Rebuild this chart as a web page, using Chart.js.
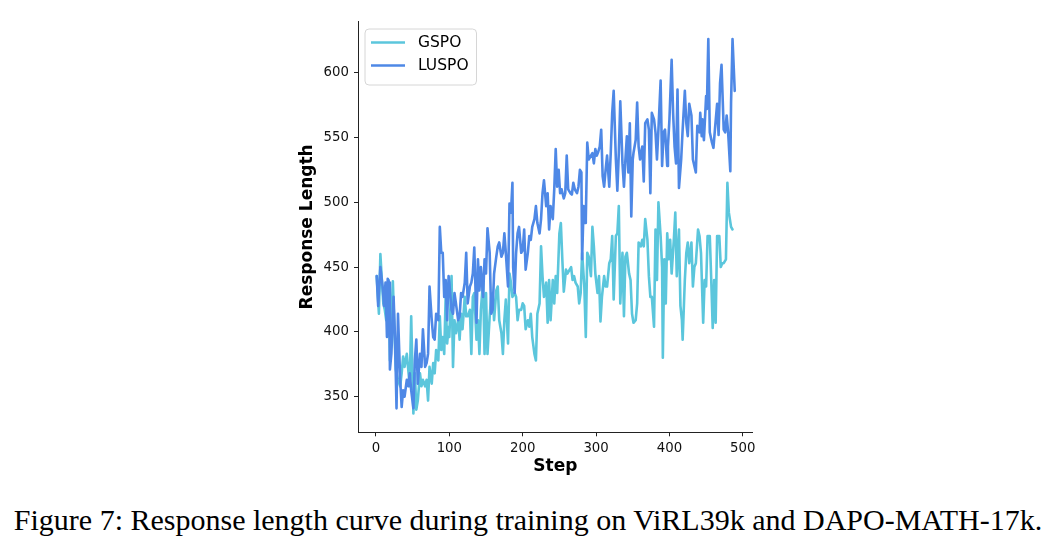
<!DOCTYPE html>
<html><head><meta charset="utf-8">
<script src="https://cdn.jsdelivr.net/npm/chart.js@4.4.1/dist/chart.umd.min.js"></script>
<style>
html,body{margin:0;padding:0;background:#fff;width:1056px;height:553px;overflow:hidden}
#chart{position:absolute;left:0;top:0}
#caption{position:absolute;left:0;top:503px;width:1056px;text-align:center;font-family:'Liberation Serif','Times New Roman',serif;font-size:30px;line-height:34px;color:#000;white-space:nowrap}
</style></head>
<body>
<canvas id="chart" width="1056" height="500"></canvas>
<div id="caption">Figure 7: Response length curve during training on ViRL39k and DAPO-MATH-17k.</div>
<script>
const seriesNames = ['GSPO', 'LUSPO'];
const xTicks = [0, 100, 200, 300, 400, 500];
const yTicks = [350, 400, 450, 500, 550, 600];

const gspoSteps = [1,4,6,8,10,12,14,17,19,23,25,27,30,33,35,37,39,42,44,46,48,51,53,55,57,60,62,64,67,69,71,73,76,78,80,82,85,87,89,91,93,95,97,99,100,103,105,107,109,112,114,116,118,121,123,125,128,130,132,134,137,139,141,143,146,148,150,152,155,157,159,161,164,166,168,171,173,175,177,180,182,184,186,189,191,193,195,198,200,202,204,207,209,211,213,216,218,220,223,225,227,229,232,234,236,238,241,243,245,247,250,252,254,256,259,261,263,266,268,270,272,275,277,279,281,284,286,288,290,293,295,297,299,302,304,306,308,311,313,315,318,320,322,324,327,329,331,333,336,338,340,342,345,347,349,351,354,356,358,361,363,365,367,370,372,374,376,379,381,383,385,388,390,391,393,395,397,399,401,403,406,408,410,413,415,417,418,421,423,425,427,430,432,434,436,439,441,443,446,448,450,452,455,457,459,461,463,465,468,470,472,474,477,479,481,484,486];
const gspoLen = [443,414,460,440,422,417,409,440,378,439,404,371,363,358,368,381,373,383,371,358,412,337,368,340,347,368,358,363,358,363,347,373,360,376,368,386,378,412,386,396,383,427,391,404,396,443,373,409,399,409,394,414,402,427,412,412,417,383,427,430,394,409,383,417,440,383,430,383,412,427,430,409,432,435,409,399,383,409,425,391,445,438,427,430,427,409,417,417,422,420,402,409,404,414,396,383,378,414,422,466,443,427,438,407,440,409,440,422,443,430,476,484,456,431,448,445,447,450,440,443,438,435,422,430,461,435,396,461,458,443,481,466,445,430,443,408,427,443,435,435,453,456,474,425,474,476,497,422,461,412,458,461,445,440,414,407,409,422,469,466,471,466,487,471,443,427,427,404,479,440,500,474,450,380,456,422,476,456,471,445,471,492,443,479,420,409,394,440,461,469,453,469,435,450,453,479,474,461,407,440,435,474,474,440,403,440,407,474,474,450,453,453,456,515,492,481,479];

const luspoSteps = [1,3,6,9,11,13,15,16,18,19,21,24,26,28,30,33,35,37,39,42,44,46,48,51,53,55,57,60,62,64,67,69,71,73,76,78,80,82,85,87,89,91,93,95,97,99,100,103,105,107,109,112,114,116,118,121,123,125,128,130,132,134,137,139,141,143,146,148,150,152,155,157,159,161,164,166,168,171,173,175,177,180,182,184,186,187,189,191,193,195,198,200,202,204,207,209,211,213,216,218,220,223,225,227,229,232,234,236,238,241,243,245,247,249,251,253,256,258,260,262,265,267,269,271,274,276,278,280,281,283,285,286,288,290,293,295,297,299,301,303,305,307,309,311,313,315,318,320,322,324,327,329,331,333,336,338,340,342,344,346,348,350,351,354,356,358,360,363,365,367,370,372,374,376,379,381,383,385,388,390,392,394,397,398,400,403,405,407,409,411,413,416,418,421,423,425,427,430,432,434,436,438,441,442,444,445,447,450,451,453,455,458,460,462,465,467,469,471,474,476,478,480,483,484,486,489];
const luspoLen = [443,420,450,435,420,438,396,441,438,371,383,427,394,341,414,363,342,355,350,363,358,368,355,341,378,394,360,383,373,402,373,376,383,435,409,396,394,414,409,481,461,461,427,440,409,443,438,417,414,430,422,409,412,430,427,438,461,422,435,438,445,465,407,456,432,450,427,456,445,480,461,414,417,445,458,466,469,458,461,476,461,435,499,492,515,450,430,461,476,481,461,463,479,448,461,474,471,481,487,497,484,476,487,507,517,497,507,479,497,487,510,541,512,525,507,510,503,507,536,510,507,506,515,510,507,512,525,523,456,497,484,487,546,533,536,538,530,541,536,539,543,556,520,512,525,536,512,538,569,586,533,509,538,578,530,512,533,551,523,561,489,533,538,548,577,543,533,543,516,561,564,556,507,569,564,554,533,556,594,528,554,556,528,543,564,610,569,543,530,587,511,533,556,586,561,551,576,567,533,528,523,559,554,569,551,564,548,582,572,626,554,546,542,556,576,552,592,606,556,554,567,554,524,577,626,586];

const colors = ['#5bc6dc', '#4e88e6'];

function toPoints(steps, vals) { return steps.map((s, i) => ({x: s, y: vals[i]})); }

const legendBox = {
  id: 'legendBox',
  afterDatasetsDraw(chart) {
    const ctx = chart.ctx, a = chart.chartArea;
    const x0 = a.left + 7, y0 = a.top + 7.5, w = 111.5, h = 56, r = 4;
    ctx.save();
    ctx.beginPath();
    ctx.moveTo(x0 + r, y0);
    ctx.arcTo(x0 + w, y0, x0 + w, y0 + h, r);
    ctx.arcTo(x0 + w, y0 + h, x0, y0 + h, r);
    ctx.arcTo(x0, y0 + h, x0, y0, r);
    ctx.arcTo(x0, y0, x0 + w, y0, r);
    ctx.closePath();
    ctx.fillStyle = 'rgba(255,255,255,0.8)';
    ctx.fill();
    ctx.strokeStyle = '#d6d6d6';
    ctx.lineWidth = 1;
    ctx.stroke();
    chart.data.datasets.forEach((ds, i) => {
      const yy = y0 + 13.5 + i * 23;
      ctx.beginPath();
      ctx.moveTo(x0 + 6, yy);
      ctx.lineTo(x0 + 40, yy);
      ctx.strokeStyle = ds.borderColor;
      ctx.lineWidth = 2.6;
      ctx.stroke();
      ctx.fillStyle = '#000';
      ctx.font = '15.5px "DejaVu Sans"';
      ctx.textBaseline = 'middle';
      ctx.textAlign = 'left';
      ctx.fillText(ds.label, x0 + 53, yy + 0.5);
    });
    ctx.restore();
  }
};

const tickFont = {family: 'DejaVu Sans', size: 13.3};
const titleFont = {family: 'DejaVu Sans', size: 17, weight: 'bold'};

new Chart(document.getElementById('chart'), {
  type: 'line',
  data: {
    datasets: [
      {label: seriesNames[0], data: toPoints(gspoSteps, gspoLen), borderColor: colors[0], backgroundColor: colors[0], order: 1},
      {label: seriesNames[1], data: toPoints(luspoSteps, luspoLen), borderColor: colors[1], backgroundColor: colors[1], order: 0}
    ]
  },
  options: {
    responsive: false,
    animation: false,
    devicePixelRatio: 1,
    layout: {padding: {left: 293.8, right: 303.3, top: 21.5, bottom: 18.8}},
    plugins: {legend: {display: false}, tooltip: {enabled: false}},
    elements: {point: {radius: 0}, line: {tension: 0, borderWidth: 2.6, borderJoinStyle: 'round', borderCapStyle: 'round'}},
    scales: {
      x: {
        type: 'linear', min: -24.5, max: 513.5,
        afterBuildTicks: ax => { ax.ticks = xTicks.map(v => ({value: v})); },
        afterFit: s => { s.height = 48.9; },
        grid: {drawOnChartArea: false, drawTicks: true, tickLength: 4, color: '#222', lineWidth: 1},
        border: {display: true, color: '#222', width: 1},
        ticks: {font: tickFont, color: '#111', padding: 4, maxRotation: 0, autoSkip: false},
        title: {display: true, text: 'Step', font: titleFont, color: '#000', padding: {top: 4, bottom: 4}}
      },
      y: {
        type: 'linear', min: 322.5, max: 639.5,
        afterBuildTicks: ax => { ax.ticks = yTicks.map(v => ({value: v})); },
        afterFit: s => { s.width = 64.2; },
        grid: {drawOnChartArea: false, drawTicks: true, tickLength: 4, color: '#222', lineWidth: 1},
        border: {display: true, color: '#222', width: 1},
        ticks: {font: tickFont, color: '#111', padding: 5, autoSkip: false},
        title: {display: true, text: 'Response Length', font: titleFont, color: '#000', padding: {top: 4, bottom: 4}}
      }
    }
  },
  plugins: [legendBox]
});
</script>
</body></html>
